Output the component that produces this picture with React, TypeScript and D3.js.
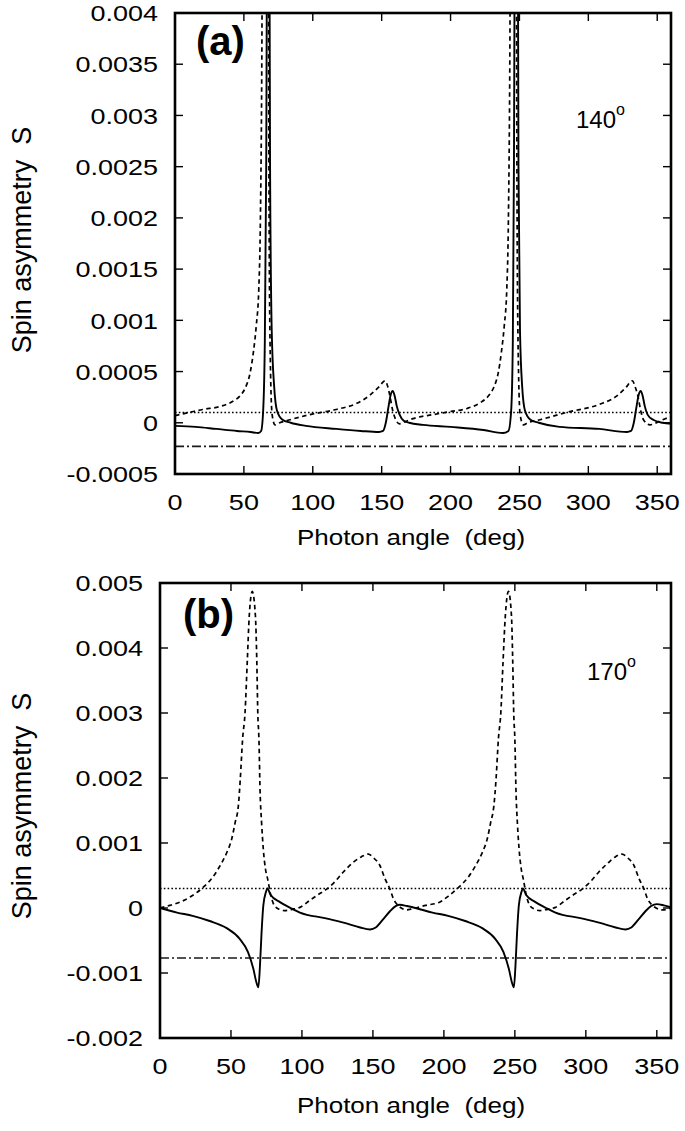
import * as d3 from "d3";

// photon angle ticks, shared by both panels
const angleTicks = [0, 50, 100, 150, 200, 250, 300, 350];

// panel (a), 140 deg
const aYTicks = [-0.0005, 0, 0.0005, 0.001, 0.0015, 0.002, 0.0025, 0.003, 0.0035, 0.004];
const aYTickLabels = ["-0.0005", "0", "0.0005", "0.001", "0.0015", "0.002", "0.0025", "0.003", "0.0035", "0.004"];
const aDotted = 0.0001;
const aDashDot = -0.00023;

const aSolid: [number, number][] = [
  [0, -0.00003], [15, -0.00004], [30, -0.00006], [45, -0.00008], [55, -0.00009], [60.5, -0.0001],
  [62.5, -0.00008], [64, 0.00012], [65.2, 0.0008], [66.2, 0.0025], [67.2, 0.006], [68.2, 0.006],
  [69, 0.0025], [70.2, 0.0009], [72, 0.00035], [74, 0.00012], [78, 0.00003], [84, 0.0],
  [95, -0.00003], [117, -0.00006], [135, -0.00008], [148, -0.00009], [151, -0.00008], [153, 0.0],
  [155, 0.00016], [156.5, 0.00027], [158, 0.00031], [159.5, 0.00026], [161, 0.00016], [163, 0.00008],
  [166, 0.00002], [170, 0.0], [180, -0.00002], [200, -0.00004], [224, -0.00007], [238, -0.0001],
  [242, -0.00008], [244, 0.00012], [245.2, 0.0008], [246, 0.0025], [247, 0.006], [248.5, 0.006],
  [249.3, 0.0025], [250.4, 0.0009], [252, 0.00035], [254, 0.00012], [258, 0.00003], [264, 0.0],
  [279, -0.00004], [308, -0.00006], [328, -0.00009], [331, -0.00008], [333, 0.0], [335, 0.00016],
  [336.5, 0.00027], [338, 0.00031], [339.5, 0.00026], [341, 0.00016], [343, 0.00008], [347, 0.00003],
  [354, 0.0], [360, -0.00001],
];

const aDashed: [number, number][] = [
  [0, 0.00007], [10, 0.0001], [20, 0.00013], [33, 0.00016], [42, 0.00021], [47, 0.00026],
  [51, 0.00034], [54.4, 0.00048], [57, 0.0007], [59, 0.00095], [60.8, 0.0013], [62, 0.002],
  [63, 0.0035], [63.8, 0.006], [66, 0.009], [67.5, 0.006], [68.3, 0.002], [69.2, 0.0006],
  [70.5, 0.00008], [72.6, -0.00002], [76, 0.0], [83.5, 0.00003], [98, 0.00008], [117, 0.00013],
  [132, 0.00019], [141.5, 0.00027], [148, 0.00035], [152.4, 0.00041], [154.5, 0.00035], [156, 0.00026],
  [158, 0.00012], [159.6, 0.00005], [163, -0.00001], [167, 0.00001], [172.7, 0.00004], [187.5, 0.00008],
  [200, 0.00011], [212, 0.00014], [222, 0.0002], [228, 0.00027], [231.5, 0.00035], [234.5, 0.00048],
  [237, 0.0007], [239, 0.00095], [240.8, 0.0013], [242, 0.002], [243, 0.0035], [243.8, 0.006],
  [246, 0.009], [247.5, 0.006], [248.3, 0.002], [249.2, 0.0006], [250.5, 0.00008], [252.8, -0.00002],
  [256, 0.0], [265, 0.00003], [284, 0.0001], [308, 0.00018], [320.5, 0.00026], [327, 0.00034],
  [332, 0.00041], [334, 0.00035], [336, 0.00026], [338, 0.00012], [340, 0.00003], [344.7, -0.00002],
  [354, 0.00003], [360, 0.00006],
];

// panel (b), 170 deg
const bYTicks = [-0.002, -0.001, 0, 0.001, 0.002, 0.003, 0.004, 0.005];
const bYTickLabels = ["-0.002", "-0.001", "0", "0.001", "0.002", "0.003", "0.004", "0.005"];
const bDotted = 0.0003;
const bDashDot = -0.00077;

const bSolid: [number, number][] = [
  [0, 0.0], [12, -0.00007], [23, -0.00012], [35, -0.0002], [47, -0.00031], [56, -0.00047],
  [62, -0.00068], [65.8, -0.00094], [68, -0.00115], [69.3, -0.00122], [70.4, -0.0009], [71.5, -0.0004],
  [72.8, 0.00004], [74.7, 0.00025], [75.6, 0.0003], [78, 0.0002], [84.5, 0.00009], [92, 0.0],
  [98.6, -0.00007], [117, -0.00016], [130, -0.00023], [141, -0.0003], [148, -0.00033], [152, -0.0003],
  [157, -0.00018], [162, -0.00005], [166, 0.00003], [169, 0.00005], [174, 0.00003], [180, 0.0],
  [192, -0.00007], [203, -0.00012], [215, -0.0002], [227, -0.00031], [236, -0.00047], [242, -0.00068],
  [245.8, -0.00094], [248, -0.00115], [249.3, -0.00122], [250.4, -0.0009], [251.5, -0.0004], [252.8, 0.00004],
  [254.7, 0.00025], [255.6, 0.0003], [258, 0.0002], [264.5, 0.00009], [272, 0.0], [278.6, -0.00007],
  [297, -0.00016], [310, -0.00023], [321, -0.0003], [328, -0.00033], [332, -0.0003], [337, -0.00018],
  [342, -0.00005], [346, 0.00003], [350, 0.00006], [355, 0.00004], [360, 0.00001],
];

const bDashed: [number, number][] = [
  [0, 0.0], [7, 0.00004], [14, 0.00009], [22, 0.00018], [30.5, 0.00032], [37, 0.00047],
  [42.3, 0.00065], [47, 0.00085], [50.5, 0.00106], [53, 0.00132], [55.2, 0.00157], [56.6, 0.002],
  [58.2, 0.0026], [59.9, 0.003], [61.5, 0.0038], [62.9, 0.0045], [65, 0.00487], [67.2, 0.0045],
  [68.2, 0.0038], [68.9, 0.003], [69.7, 0.0026], [70.5, 0.0018], [71.6, 0.0013], [72.8, 0.0009],
  [74.3, 0.0006], [75.9, 0.00044], [78, 0.0002], [80.5, 0.00004], [84, -0.00002], [87.6, -0.00004],
  [93, -0.00002], [98.6, 0.00001], [105.7, 0.00012], [111, 0.0002], [117.4, 0.00029], [123, 0.0004],
  [129, 0.00055], [136, 0.0007], [142, 0.00079], [146.8, 0.00083], [150, 0.00078], [155, 0.00065],
  [158.5, 0.00045], [162, 0.00029], [164.5, 0.00014], [166.8, 0.00006], [170, 0.0], [173.8, -0.00003],
  [178, -0.00001], [187, 0.00004], [197, 0.00009], [203, 0.00018], [210.5, 0.00032], [217, 0.00047],
  [222.3, 0.00065], [227, 0.00085], [230.5, 0.00106], [233, 0.00132], [235.2, 0.00157], [236.8, 0.002],
  [238.4, 0.0026], [240.1, 0.003], [241.7, 0.0038], [243.3, 0.0045], [245.5, 0.00487], [247.6, 0.0045],
  [248.5, 0.0038], [249.2, 0.003], [250, 0.0026], [250.8, 0.0018], [251.8, 0.0013], [253, 0.0009],
  [254.5, 0.0006], [256, 0.00044], [258, 0.0002], [260.5, 0.00004], [264, -0.00002], [267.6, -0.00004],
  [273, -0.00002], [278.6, 0.00001], [285.7, 0.00012], [291, 0.0002], [297.4, 0.00029], [303, 0.0004],
  [309, 0.00055], [316, 0.0007], [321, 0.00079], [325.5, 0.00083], [329, 0.00078], [334, 0.00065],
  [337.5, 0.00045], [341, 0.00029], [343.5, 0.00014], [346, 0.00006], [349.5, 0.0], [354, -0.00003],
  [360, 0.0],
];

const FONT = "'Liberation Sans', Arial, Helvetica, sans-serif";

type PanelProps = {
  id: string;
  left: number; right: number; top: number; bottom: number;
  yDomain: [number, number];
  yTicks: number[];
  yTickLabels: string[];
  solid: [number, number][];
  dashed: [number, number][];
  dotted: number;
  dashDot: number;
  tag: string;
  tagX: number; tagY: number;
  angleLabel: string;
  angleX: number; angleY: number;
  titleY: number;
  yTitleY: number;
};

function Panel(p: PanelProps) {
  const x = d3.scaleLinear().domain([0, 360]).range([p.left, p.right]);
  const y = d3.scaleLinear().domain(p.yDomain).range([p.bottom, p.top]);
  const line = d3.line<[number, number]>()
    .x(d => x(d[0]))
    .y(d => y(d[1]))
    .curve(d3.curveMonotoneX);
  const tickLen = 8;

  return (
    <g>
      <defs>
        <clipPath id={p.id}>
          <rect x={p.left} y={p.top} width={p.right - p.left} height={p.bottom - p.top} />
        </clipPath>
      </defs>

      <g clipPath={`url(#${p.id})`}>
        <line x1={p.left} x2={p.right} y1={y(p.dotted)} y2={y(p.dotted)}
          stroke="#000" strokeWidth={1.6} strokeDasharray="1.6,2.2" />
        <line x1={p.left} x2={p.right} y1={y(p.dashDot)} y2={y(p.dashDot)}
          stroke="#1a1a1a" strokeWidth={1.6} strokeDasharray="9,3,2,3" />
        <path d={line(p.dashed) || ""} fill="none" stroke="#000" strokeWidth={1.7} strokeDasharray="4.5,3.5" />
        <path d={line(p.solid) || ""} fill="none" stroke="#000" strokeWidth={1.9} />
      </g>

      {/* ticks on all four sides, pointing inward */}
      {angleTicks.map(t => (
        <g key={"xt" + t}>
          <line x1={x(t)} x2={x(t)} y1={p.bottom} y2={p.bottom - tickLen} stroke="#000" strokeWidth={1.4} />
          <line x1={x(t)} x2={x(t)} y1={p.top} y2={p.top + tickLen} stroke="#000" strokeWidth={1.4} />
          <text transform={`translate(${x(t)},${p.bottom + 28}) scale(1,0.85)`} textAnchor="middle"
            dominantBaseline="central" fontSize={27} fontFamily={FONT}>{t}</text>
        </g>
      ))}
      {p.yTicks.map((t, i) => (
        <g key={"yt" + t}>
          <line x1={p.left} x2={p.left + tickLen} y1={y(t)} y2={y(t)} stroke="#000" strokeWidth={1.4} />
          <line x1={p.right} x2={p.right - tickLen} y1={y(t)} y2={y(t)} stroke="#000" strokeWidth={1.4} />
          <text transform={`translate(${p.left - 17},${y(t)}) scale(1,0.85)`} textAnchor="end"
            dominantBaseline="central" fontSize={27} fontFamily={FONT}>{p.yTickLabels[i]}</text>
        </g>
      ))}

      <rect x={p.left} y={p.top} width={p.right - p.left} height={p.bottom - p.top}
        fill="none" stroke="#000" strokeWidth={2.6} />

      <text x={p.tagX} y={p.tagY} fontSize={40} fontWeight="bold" fontFamily={FONT}>{p.tag}</text>
      <text x={p.angleX} y={p.angleY} fontSize={24} fontFamily={FONT}>
        {p.angleLabel}
        <tspan fontSize={16} dy={-13}>o</tspan>
      </text>

      <text transform={`translate(411,${p.titleY}) scale(1,0.88)`} textAnchor="middle"
        dominantBaseline="central" fontSize={26} fontFamily={FONT} style={{ whiteSpace: "pre" }}>
        {"Photon angle  (deg)"}
      </text>
      <text transform={`translate(22,${p.yTitleY}) rotate(-90)`} textAnchor="middle"
        dominantBaseline="central" fontSize={27} fontFamily={FONT} style={{ whiteSpace: "pre" }}>
        {"Spin asymmetry  S"}
      </text>
    </g>
  );
}

export default function App() {
  return (
    <svg width={685} height={1131} viewBox="0 0 685 1131"
      style={{ position: "absolute", left: 0, top: 0, background: "#fff" }}>
      <rect width={685} height={1131} fill="#fff" />
      <Panel id="clipA" left={175} right={671} top={13} bottom={474}
        yDomain={[-0.0005, 0.004]} yTicks={aYTicks} yTickLabels={aYTickLabels}
        solid={aSolid} dashed={aDashed} dotted={aDotted} dashDot={aDashDot}
        tag="(a)" tagX={196} tagY={55} angleLabel="140" angleX={576} angleY={128}
        titleY={537} yTitleY={240} />
      <Panel id="clipB" left={160} right={671} top={583} bottom={1038}
        yDomain={[-0.002, 0.005]} yTicks={bYTicks} yTickLabels={bYTickLabels}
        solid={bSolid} dashed={bDashed} dotted={bDotted} dashDot={bDashDot}
        tag="(b)" tagX={183} tagY={628} angleLabel="170" angleX={587} angleY={680}
        titleY={1105} yTitleY={806} />
    </svg>
  );
}
